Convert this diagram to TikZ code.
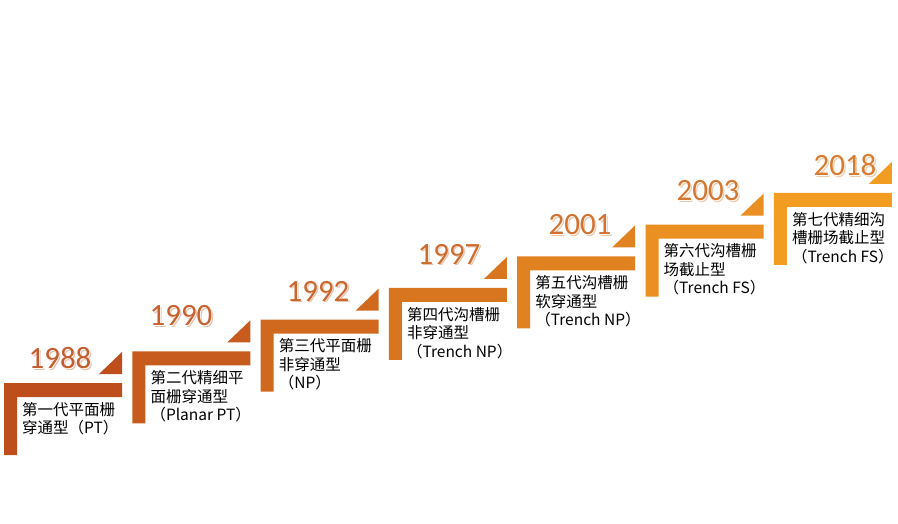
\documentclass[tikz,border=0pt]{standalone}
\usepackage{fontspec}
\setmainfont{Carlito}
\newfontfamily\cjk{Noto Sans CJK SC}
\definecolor{rust}{RGB}{190,78,28}
\definecolor{amber}{RGB}{243,156,34}
\tikzset{
  yearlabel/.style={font=\fontsize{31}{31}\selectfont, inner sep=0pt},
  desclabel/.style={font=\cjk\fontsize{15.5}{18.5}\selectfont, align=left, anchor=north west, inner sep=0pt},
}
\begin{document}
\begin{tikzpicture}[x=1pt,y=-1pt, line join=round]
\useasboundingbox (0,0) rectangle (898,523);
\def\dx{128.3} \def\dy{31.67} % Bước
\def\barw{118} \def\barh{72} \def\barth{14}
\foreach \i/\yr/\yx/\yy/\txt in {
  0/1988/60/358/{第一代平面栅\\穿通型（PT）},
  1/1990/181/316/{第二代精细平\\面栅穿通型\\（Planar PT）},
  2/1992/318/291/{第三代平面栅\\非穿通型\\（NP）},
  3/1997/449/254/{第四代沟槽栅\\非穿通型\\（Trench NP）},
  4/2001/580/225/{第五代沟槽栅\\软穿通型\\（Trench NP）},
  5/2003/708/191/{第六代沟槽栅\\场截止型\\（Trench FS）},
  6/2018/845/165/{第七代精细沟\\槽栅场截止型\\（Trench FS）}}
{
  \pgfmathsetmacro\p{\i*100/6}
  \colorlet{stepcol}{amber!\p!rust}
  \colorlet{yearcol}{stepcol!45!rust!92!white}
  \pgfmathsetmacro\L{4+\i*\dx}
  \pgfmathsetmacro\T{383-\i*\dy}
  \fill[stepcol] (\L,\T) -- ++(\barw,0) -- ++(0,\barth) -- ++(13-\barw,0)
    -- ++(0,\barh-\barth) -- ++(-13,0) -- cycle;
  \fill[stepcol] (\L+\barw-23,\T-9) -- (\L+\barw,\T-9) -- (\L+\barw,\T-31) -- cycle;
  \node[yearlabel, text=yearcol!40!white] (yearsh\i) at (\yx+1.6,\yy+1.6) {\yr};
  \node[yearlabel, text=white] (yearhl\i) at (\yx+0.7,\yy+0.7) {\yr};
  \node[yearlabel, text=yearcol] (year\i) at (\yx,\yy) {\yr};
  \node[desclabel] (desc\i) at (\L+18,\T+19) {\txt};
}
\end{tikzpicture}
\end{document}
